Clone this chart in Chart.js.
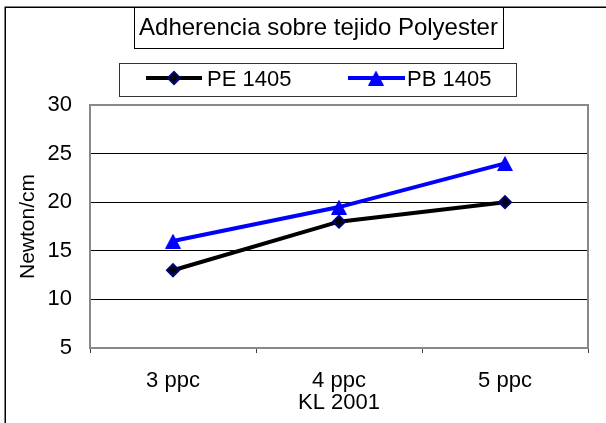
<!DOCTYPE html>
<html>
<head>
<meta charset="utf-8">
<script src="https://cdn.jsdelivr.net/npm/chart.js@4/dist/chart.umd.min.js"></script>
<style>
  html, body { margin: 0; padding: 0; background: #fff; }
  #wrap { width: 606px; height: 423px; }
</style>
</head>
<body>
<div id="wrap"><canvas id="chart" width="606" height="423"></canvas></div>
<script>
const titleText = "Adherencia sobre tejido Polyester";
const categories = ["3 ppc", "4 ppc", "5 ppc"];
const peValues = [13, 18, 20];
const pbValues = [16, 19.5, 24];
const seriesNames = ["PE 1405", "PB 1405"];
const yMin = 5;
const yMax = 30;
const yStep = 5;
const xTitle = "KL 2001";
const yTitle = "Newton/cm";

const FONT = "'Liberation Sans', Arial, sans-serif";

// excel style triangle marker
const makeTriangle = (w, h, color) => {
  const c = document.createElement("canvas");
  c.width = w;
  c.height = h;
  const g = c.getContext("2d");
  g.fillStyle = color;
  g.beginPath();
  g.moveTo(w / 2, 0);
  g.lineTo(w, h);
  g.lineTo(0, h);
  g.closePath();
  g.fill();
  return c;
};
const triangle = makeTriangle(16, 15, "#0000FF");

const drawDiamond = (ctx, x, y, r) => {
  ctx.beginPath();
  ctx.moveTo(x, y - r);
  ctx.lineTo(x + r, y);
  ctx.lineTo(x, y + r);
  ctx.lineTo(x - r, y);
  ctx.closePath();
  ctx.fillStyle = "#000";
  ctx.fill();
  ctx.lineWidth = 2;
  ctx.strokeStyle = "#000080";
  ctx.stroke();
};

const framePlugin = {
  id: "frame",
  beforeDraw(chart) {
    const ctx = chart.ctx;
    ctx.save();
    ctx.fillStyle = "#fff";
    ctx.fillRect(0, 0, chart.width, chart.height);
    ctx.restore();
  },
  beforeDatasetsDraw(chart) {
    const { ctx, chartArea: a } = chart;
    ctx.save();
    ctx.strokeStyle = "#888";
    ctx.lineWidth = 2;
    ctx.strokeRect(a.left, a.top, a.right - a.left, a.bottom - a.top);
    ctx.restore();
  },
  afterDraw(chart) {
    const ctx = chart.ctx;
    ctx.save();
    // outer chart border (right/bottom fall outside the picture)
    ctx.strokeStyle = "#000";
    ctx.lineWidth = 1.5;
    ctx.strokeRect(5.25, 7.25, 700, 700);

    // title box
    ctx.lineWidth = 1;
    ctx.strokeStyle = "#000";
    ctx.fillStyle = "#fff";
    ctx.fillRect(134.5, 7.5, 369, 41);
    ctx.strokeRect(134.5, 7.5, 369, 41);
    ctx.fillStyle = "#000";
    ctx.font = "24px " + FONT;
    ctx.textAlign = "center";
    ctx.textBaseline = "alphabetic";
    ctx.fillText(titleText, 318.5, 35);

    // legend box
    ctx.strokeStyle = "#333";
    ctx.fillStyle = "#fff";
    ctx.fillRect(119.5, 63.5, 397, 33);
    ctx.strokeRect(119.5, 63.5, 397, 33);

    const ly = 78;
    ctx.lineWidth = 4;
    ctx.strokeStyle = "#000";
    ctx.beginPath();
    ctx.moveTo(146, ly);
    ctx.lineTo(202, ly);
    ctx.stroke();
    drawDiamond(ctx, 174, ly, 6);

    ctx.lineWidth = 4;
    ctx.strokeStyle = "#0000FF";
    ctx.beginPath();
    ctx.moveTo(348, ly);
    ctx.lineTo(405, ly);
    ctx.stroke();
    ctx.drawImage(triangle, 376 - 8, ly - 7.5);

    ctx.fillStyle = "#000";
    ctx.font = "22px " + FONT;
    ctx.textAlign = "left";
    ctx.fillText(seriesNames[0], 207, 86);
    ctx.fillText(seriesNames[1], 407, 86);
    ctx.restore();
  },
};

const ctx = document.getElementById("chart").getContext("2d");

new Chart(ctx, {
  type: "line",
  data: {
    labels: categories,
    datasets: [
      {
        label: seriesNames[0],
        data: peValues,
        borderColor: "#000",
        borderWidth: 4,
        pointStyle: "rectRot",
        pointRadius: 6,
        pointBorderWidth: 2,
        pointBackgroundColor: "#000",
        pointBorderColor: "#000080",
        tension: 0,
      },
      {
        label: seriesNames[1],
        data: pbValues,
        borderColor: "#0000FF",
        borderWidth: 4,
        pointStyle: triangle,
        pointRadius: 8,
        pointBackgroundColor: "#0000FF",
        pointBorderColor: "#0000FF",
        tension: 0,
      },
    ],
  },
  options: {
    responsive: false,
    animation: false,
    layout: {
      padding: { top: 105, left: 6, right: 18, bottom: 0 },
    },
    plugins: {
      legend: { display: false },
      title: { display: false },
      tooltip: { enabled: false },
    },
    scales: {
      x: {
        offset: true,
        afterFit: (scale) => {
          scale.height = 75;
        },
        grid: {
          offset: true,
          drawOnChartArea: false,
          drawTicks: true,
          tickLength: 5,
          color: "#404040",
          lineWidth: 1,
        },
        border: { display: true, color: "#888", width: 2 },
        ticks: {
          color: "#000",
          padding: 15,
          font: { size: 22, family: FONT },
        },
        title: {
          display: true,
          text: xTitle,
          color: "#000",
          padding: { top: 0, bottom: 7 },
          font: { size: 22, family: FONT },
        },
      },
      y: {
        min: yMin,
        max: yMax,
        afterFit: (scale) => {
          scale.width = 84;
        },
        grid: {
          drawTicks: false,
          color: (c) =>
            c.tick && (c.tick.value === yMin || c.tick.value === yMax)
              ? "rgba(0,0,0,0)"
              : "#000",
          lineWidth: 1,
        },
        border: { display: true, color: "#888", width: 2 },
        ticks: {
          stepSize: yStep,
          color: "#000",
          padding: 18,
          font: { size: 22, family: FONT },
        },
        title: {
          display: true,
          text: yTitle,
          color: "#000",
          padding: { top: 10, bottom: 0 },
          font: { size: 21, family: FONT },
        },
      },
    },
  },
  plugins: [framePlugin],
});
</script>
</body>
</html>
